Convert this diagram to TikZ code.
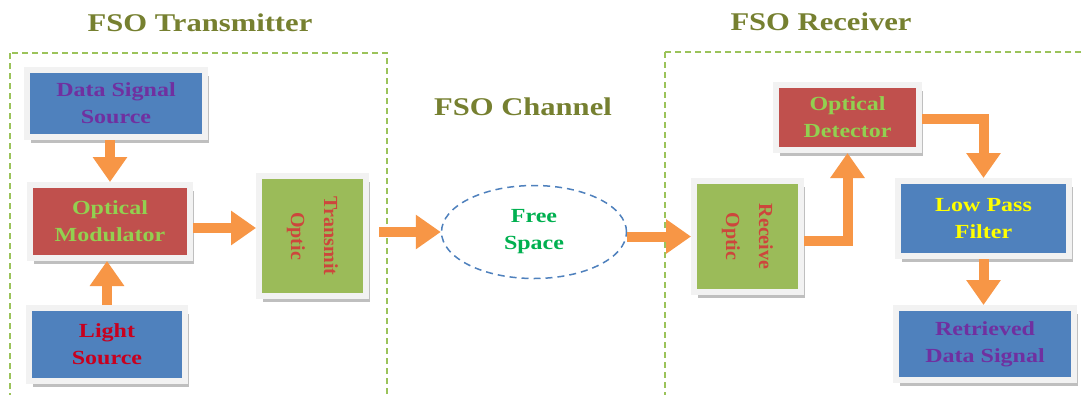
\documentclass[tikz,border=0pt]{standalone}
\usepackage{fontspec}
\setmainfont{Liberation Serif}[FakeStretch=1.2]
\newfontfamily\rotfont{Liberation Serif}
\usetikzlibrary{arrows.meta,shadows,shapes.geometric,calc}
\definecolor{boxblue}{RGB}{79,129,189}
\definecolor{boxred}{RGB}{192,80,77}
\definecolor{boxgreen}{RGB}{155,187,89}
\definecolor{arrorange}{RGB}{247,150,70}
\definecolor{titleolive}{RGB}{118,128,48}
\definecolor{dashgreen}{RGB}{155,195,90}
\definecolor{txtpurple}{RGB}{112,48,160}
\definecolor{txtlgreen}{RGB}{146,208,80}
\definecolor{txtcrimson}{RGB}{200,0,30}
\definecolor{txtred}{RGB}{205,70,60}
\definecolor{txtgreen}{RGB}{0,176,80}
\definecolor{txtyellow}{RGB}{255,255,0}
\definecolor{ellblue}{RGB}{79,129,189}
\tikzset{
  blockbox/.style={rectangle, inner sep=0pt, draw=black!5, line width=6pt,
    drop shadow={shadow xshift=3.5pt, shadow yshift=-5.5pt, fill=black!45, opacity=0.55},
    align=center, font=\fontsize{20}{27}\selectfont\bfseries},
  rotlabel/.style={rotate=-90, align=center, text=txtred,
    font=\rotfont\fontsize{20}{33}\selectfont\bfseries},
  arr/.style={draw=arrorange, line width=10pt, line join=miter,
    -{Triangle[width=33pt,length=25pt]}},
  sectitle/.style={font=\fontsize{25.5}{30}\selectfont\bfseries, text=titleolive},
  zone/.style={draw=dashgreen, line width=1.5pt, dash pattern=on 6pt off 4pt}
}
\begin{document}
\begin{tikzpicture}[x=1pt,y=-1pt]
\clip (0,0) rectangle (1083,394);
\fill[white] (0,0) rectangle (1083,394);
% zones
\draw[zone] (10,53) rectangle (387,420);
\draw[zone] (665,52) rectangle (1100,420);
% titles
\node[sectitle] (tt) at (200,23) {FSO Transmitter};
\node[sectitle] (rt) at (821,22) {FSO Receiver};
\node[sectitle] (ct) at (523,107) {FSO Channel};
% blocks
\node[blockbox, fill=boxblue, text=txtpurple, minimum width=178pt, minimum height=67pt] (DSS) at (116,103.5) {Data Signal\\Source};
\node[blockbox, fill=boxred, text=txtlgreen, minimum width=160pt, minimum height=73pt] (OM) at (110,221.5) {Optical\\Modulator};
\node[blockbox, fill=boxblue, text=txtcrimson, minimum width=156pt, minimum height=73pt] (LS) at (107,344.5) {Light\\Source};
\node[blockbox, fill=boxgreen, minimum width=107pt, minimum height=120pt] (TO) at (312.5,236) {};
\node[rotlabel] (TOt) at (TO.center) {Transmit\\Optic};
\node[draw=ellblue, line width=1.5pt, dash pattern=on 7pt off 5pt, ellipse, minimum width=185pt, minimum height=93pt, inner sep=0pt, align=center, text=txtgreen, font=\fontsize{20}{27}\selectfont\bfseries] (FS) at (534,232) {Free\\Space};
\node[blockbox, fill=boxgreen, minimum width=107pt, minimum height=111pt] (RO) at (747.5,236.5) {};
\node[rotlabel] (ROt) at (RO.center) {Receive\\Optic};
\node[blockbox, fill=boxred, text=txtlgreen, minimum width=143pt, minimum height=65pt] (OD) at (847.5,117.5) {Optical\\Detector};
\node[blockbox, fill=boxblue, text=txtyellow, minimum width=171pt, minimum height=75pt] (LPF) at (983.5,218.5) {Low Pass\\Filter};
\node[blockbox, fill=boxblue, text=txtpurple, minimum width=178pt, minimum height=72pt] (RDS) at (985,344) {Retrieved\\Data Signal};
% connectors
\draw[arr] (DSS.south -| OM.north) -- (OM.north);
\draw[arr] (LS.north) -- (LS.north |- OM.south);
\coordinate (omout) at ($(OM.east)+(0,6.5)$);
\draw[arr] (omout) -- (omout -| TO.west);
\coordinate (toout) at ($(TO.east |- FS.west)+(10,0)$);
\draw[arr] (toout) -- (FS.west);
\draw[arr] (FS.east |- RO.west) -- (RO.west);
\coordinate (roout) at ($(RO.east)+(0,4.5)$);
\draw[arr] (roout) -| (OD.south);
\coordinate (odout) at ($(OD.east)+(0,1.5)$);
\draw[arr] (odout) -| (LPF.north);
\draw[arr] (LPF.south) -- (LPF.south |- RDS.north);
\end{tikzpicture}
\end{document}
